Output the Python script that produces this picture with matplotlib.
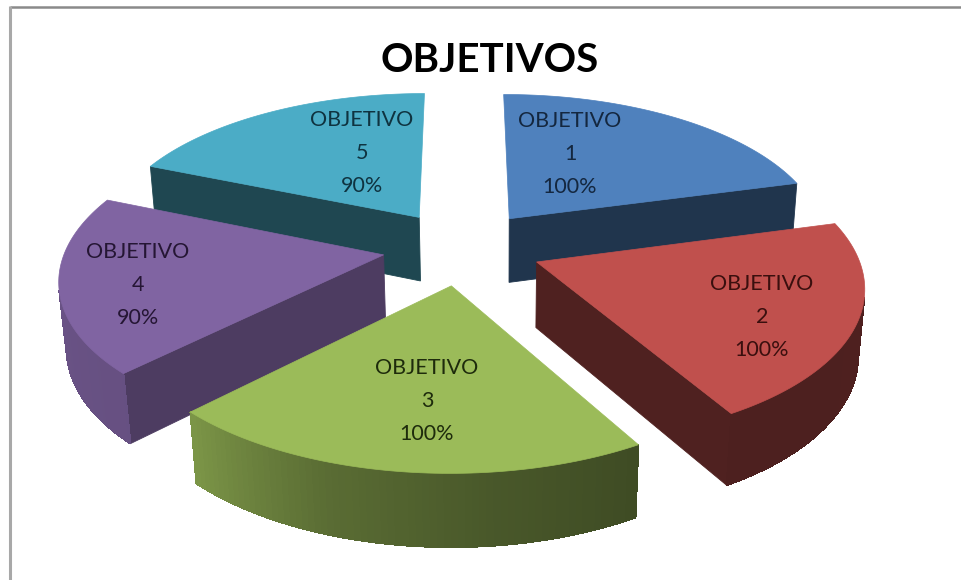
import numpy as np
import matplotlib
matplotlib.use("Agg")
import matplotlib.pyplot as plt
from matplotlib.patches import Polygon
from matplotlib.colors import to_rgb

# --- data -------------------------------------------------------------
categories = ["OBJETIVO 1", "OBJETIVO 2", "OBJETIVO 3", "OBJETIVO 4", "OBJETIVO 5"]
values = [100, 100, 100, 90, 90]
percent_labels = ["100%", "100%", "100%", "90%", "90%"]
title = "OBJETIVOS"
colors = ["#4F81BD", "#C0504D", "#9BBB59", "#8064A2", "#4BACC6"]

# --- style / geometry -------------------------------------------------
side_shade = [0.41, 0.41, 0.41, 0.60, 0.41]
text_colors = ["#14273f", "#3a0f0e", "#1e2b0c", "#251634", "#0f3340"]
label_pos = [(570, 154), (762, 317), (427, 401), (138, 285), (362, 153)]
explode = 0.25
first_angle = np.radians(-9.0)
# camera matrix: world (u, v, z, 1) -> homogeneous pixel coordinates
CAM = np.array([[303.48471, 114.06988, -8.65808, 462.10682],
                [17.52075, -112.99195, -70.34619, 247.52129],
                [-0.02325, 0.13891, -0.01745, 1.0]])
_, _, Vt = np.linalg.svd(CAM)
eye = Vt[-1] / Vt[-1][3]


def project(u, v, z):
    h = CAM @ np.array([u, v, z, 1.0])
    return h[0] / h[2], h[1] / h[2]


def facing(p0, p1, p2, limit):
    """True when the face through three world points, wound outward, faces the camera."""
    n = np.cross(p1 - p0, p2 - p0)
    n = n / np.linalg.norm(n)
    d = eye[:3] - p0
    return np.dot(n, d / np.linalg.norm(d)) > limit


def shade(rgb, f):
    return tuple(min(1.0, c * f) for c in rgb)


fig = plt.figure(figsize=(9.61, 5.8), dpi=100, facecolor="white")
ax = fig.add_axes([0, 0, 1, 1])
ax.set_xlim(0, 961)
ax.set_ylim(580, 0)
ax.axis("off")

# window frame: only the top and left edges are visible
ax.plot([10, 961], [7, 7], color="#8a8a8a", lw=1.8, solid_capstyle="butt", zorder=1)
ax.plot([10, 10], [6, 580], color="#a8a8a8", lw=2.2, solid_capstyle="butt", zorder=1)

total = sum(values)
edges = np.r_[0, np.cumsum(values)] / total * 2 * np.pi + first_angle
mids = (edges[:-1] + edges[1:]) / 2
order = np.argsort(-np.cos(mids) * explode)  # far wedges first

for rank, i in enumerate(order):
    rgb = to_rgb(colors[i])
    z0 = 2 + rank * 0.1
    ou, ov = explode * np.sin(mids[i]), explode * np.cos(mids[i])
    angs = np.linspace(edges[i], edges[i + 1], 71)
    ru, rv = ou + np.sin(angs), ov + np.cos(angs)

    def quad(a, b, color, smooth=True):
        """Wall between world points a and b (u, v), seen from outside."""
        p0 = np.array([a[0], a[1], 0.0])
        p1 = np.array([b[0], b[1], 0.0])
        p2 = np.array([b[0], b[1], -1.0])
        # radial walls seen almost edge-on are not drawn; rim facets are kept
        if not facing(p0, p1, p2, 0.05 if smooth else 0.0):
            return
        pts = [project(a[0], a[1], 0), project(b[0], b[1], 0),
               project(b[0], b[1], -1), project(a[0], a[1], -1)]
        ax.add_patch(Polygon(pts, closed=True, facecolor=color, edgecolor=color,
                             lw=0.6, zorder=z0, antialiased=smooth))
        if not smooth:
            # soft lower outline so that the wall's silhouette is not jagged
            ax.plot([pts[2][0], pts[3][0]], [pts[2][1], pts[3][1]], color=color,
                    lw=0.8, solid_capstyle="round", zorder=z0)

    side = shade(rgb, side_shade[i])
    quad((ou, ov), (ru[0], rv[0]), side)       # radial wall at the start angle
    quad((ru[-1], rv[-1]), (ou, ov), side)     # radial wall at the end angle
    deg = np.degrees(angs) % 360
    for k in range(len(angs) - 1):
        f = np.interp((deg[k] + deg[k + 1]) / 2,
                      [60, 140, 165, 190, 216, 290],
                      [0.41, 0.40, 0.47, 0.58, 0.80, 0.85])
        quad((ru[k], rv[k]), (ru[k + 1], rv[k + 1]), shade(rgb, f), smooth=False)

    top = [project(ou, ov, 0)] + [project(a, b, 0) for a, b in zip(ru, rv)]
    ax.add_patch(Polygon(top, closed=True, facecolor=rgb, edgecolor=rgb,
                         lw=0.5, zorder=z0 + 0.05))

for i, (x, y) in enumerate(label_pos):
    ax.text(x, y, categories[i].replace(" ", "\n") + "\n" + percent_labels[i],
            ha="center", va="center", fontsize=15.5, family="Lato",
            color=text_colors[i], linespacing=1.84, zorder=10)

ax.text(490, 61, title, ha="center", va="center", fontsize=29, family="Lato",
        fontweight="bold", color="black", zorder=10)

fig.savefig("out.png", dpi=100, facecolor="white")
